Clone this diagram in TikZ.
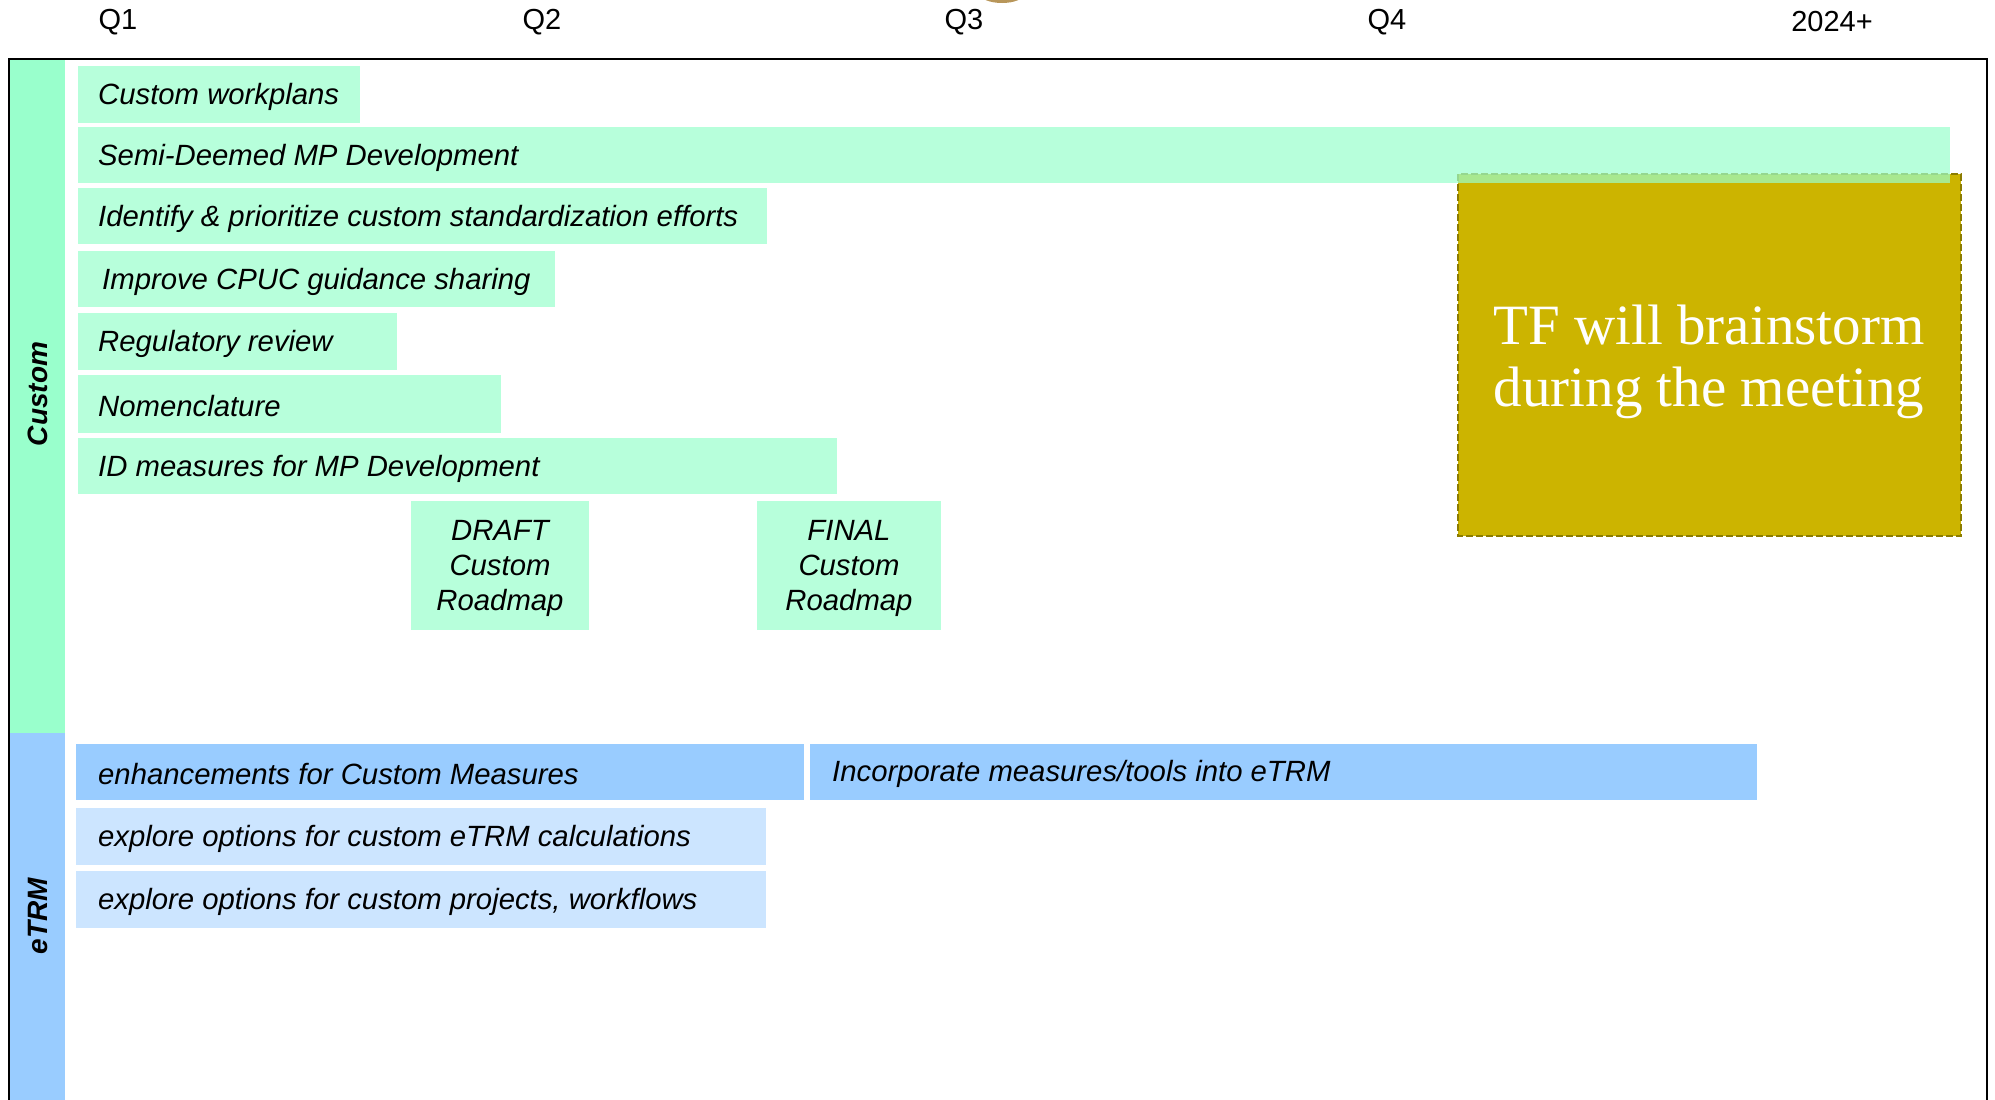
\documentclass[tikz,border=0pt]{standalone}
\usepackage{fontspec}
\setmainfont{Liberation Sans}
\newfontfamily\tfserif{Liberation Serif}
\definecolor{custband}{HTML}{99FFCC}
\definecolor{etrmband}{HTML}{99CCFF}
\definecolor{etrmlight}{HTML}{CCE5FF}
\definecolor{tfolive}{HTML}{CCB400}
\definecolor{tfedge}{HTML}{8C7C00}
\definecolor{knob}{HTML}{B8965A}
\tikzset{
  quarter/.style={font=\fontsize{29}{34}\selectfont, inner sep=0pt},
  tasktext/.style={font=\fontsize{29.3}{34}\selectfont\itshape, anchor=west, inner sep=0pt},
  milestone/.style={font=\fontsize{29.3}{35}\selectfont\itshape, align=center, inner sep=0pt},
  lanelabel/.style={font=\fontsize{28}{34}\selectfont\bfseries\itshape, rotate=90, inner sep=0pt},
  custbar/.style={fill=custband, fill opacity=0.7},
  etrmbar/.style={fill=etrmband},
  etrmsoft/.style={fill=etrmlight},
  tfbox/.style={fill=tfolive, draw=tfedge, dash pattern=on 7pt off 3pt, line width=2pt}
}
\begin{document}
\begin{tikzpicture}[x=1pt, y=-1pt]
  \useasboundingbox (0,0) rectangle (1995,1100);
  \clip (0,0) rectangle (1995,1100);
  \fill[knob] (1002,-6) ellipse (22 and 9);
  % quarters
  \node[quarter] (q1) at (118,22) {Q1};
  \node[quarter] (q2) at (542,22) {Q2};
  \node[quarter] (q3) at (964,22) {Q3};
  \node[quarter] (q4) at (1387,22) {Q4};
  \node[quarter] (next) at (1832,22) {2024+};
  % swim lanes
  \fill[custband] (9,59) rectangle (65,733);
  \fill[etrmband] (9,733) rectangle (65,1110);
  \node[lanelabel] (custlane) at (38,394) {Custom};
  \node[lanelabel] (etrmlane) at (38,916) {eTRM};
  % brainstorm box
  \draw[tfbox] (1458,174) rectangle (1961,536);
  \node[font=\tfserif\fontsize{57}{62}\selectfont, text=white, align=center, inner sep=0pt]
    (tf) at (1709,362) {TF will brainstorm\\during the meeting};
  % custom tasks
  \fill[custbar] (78,66) rectangle (360,123);
  \fill[custbar] (78,127) rectangle (1950,183);
  \fill[custbar] (78,188) rectangle (767,244);
  \fill[custbar] (78,251) rectangle (555,307);
  \fill[custbar] (78,313) rectangle (397,370);
  \fill[custbar] (78,375) rectangle (501,433);
  \fill[custbar] (78,438) rectangle (837,494);
  \fill[custbar] (411,501) rectangle (589,630);
  \fill[custbar] (757,501) rectangle (941,630);
  \node[tasktext] (wp) at (98,97) {Custom workplans};
  \node[tasktext] (semi) at (98,158) {Semi-Deemed MP Development};
  \node[tasktext] (ident) at (98,219) {Identify \& prioritize custom standardization efforts};
  \node[tasktext] (cpuc) at (102,282) {Improve CPUC guidance sharing};
  \node[tasktext] (reg) at (98,344) {Regulatory review};
  \node[tasktext] (nom) at (98,406) {Nomenclature};
  \node[tasktext] (idm) at (98,469) {ID measures for MP Development};
  \node[milestone] (draft) at (500,568) {DRAFT\\Custom\\Roadmap};
  \node[milestone] (final) at (849,568) {FINAL\\Custom\\Roadmap};
  % eTRM tasks
  \fill[etrmbar] (76,744) rectangle (804,800);
  \fill[etrmbar] (810,744) rectangle (1757,800);
  \fill[etrmsoft] (76,808) rectangle (766,865);
  \fill[etrmsoft] (76,871) rectangle (766,928);
  \node[tasktext] (enh) at (98,774) {enhancements for Custom Measures};
  \node[tasktext] (inc) at (832,774) {Incorporate measures/tools into eTRM};
  \node[tasktext] (calc) at (98,839) {explore options for custom eTRM calculations};
  \node[tasktext] (flows) at (98,902) {explore options for custom projects, workflows};
  % frame
  \draw[line width=2pt] (9,1110) -- (9,59) -- (1987,59) -- (1987,1110);
\end{tikzpicture}
\end{document}
